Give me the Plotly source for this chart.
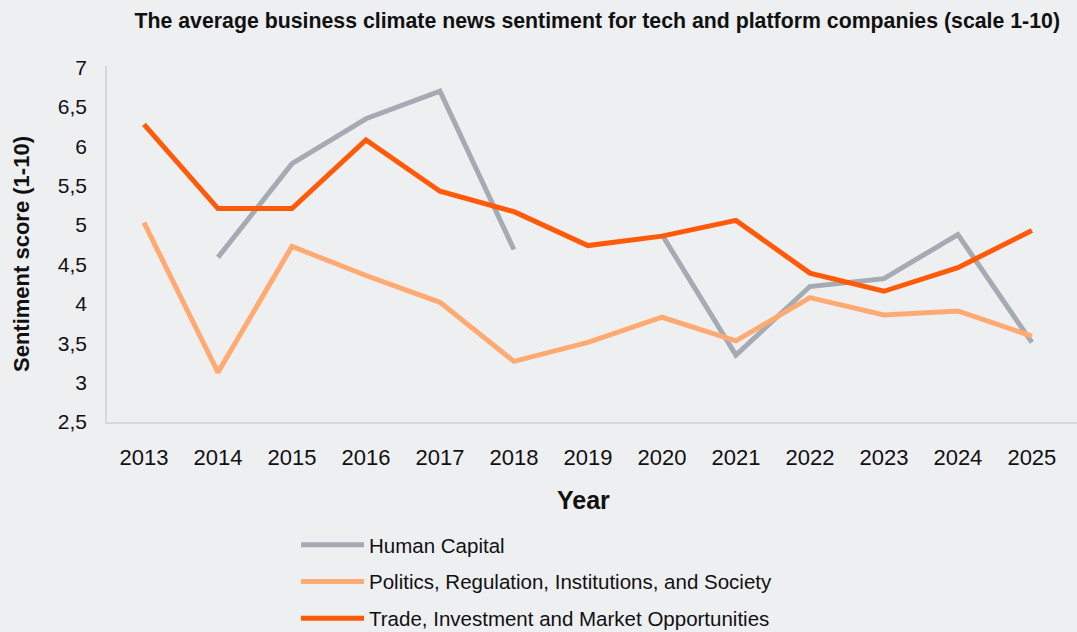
import plotly.graph_objects as go

# Sentiment scores per year (scale 1-10); None marks a year without data
years = [2013, 2014, 2015, 2016, 2017, 2018, 2019, 2020, 2021, 2022, 2023, 2024, 2025]
human_capital = [None, 4.59, 5.78, 6.35, 6.70, 4.69, None, 4.88, 3.35, 4.22, 4.32, 4.88, 3.51]
politics = [5.03, 3.13, 4.73, 4.36, 4.02, 3.27, 3.51, 3.83, 3.53, 4.08, 3.86, 3.91, 3.59]
trade = [6.28, 5.21, 5.21, 6.08, 5.43, 5.17, 4.74, 4.86, 5.06, 4.39, 4.16, 4.46, 4.93]

y_ticks = [2.5, 3, 3.5, 4, 4.5, 5, 5.5, 6, 6.5, 7]
y_tick_labels = ["2,5", "3", "3,5", "4", "4,5", "5", "5,5", "6", "6,5", "7"]

series = [
    ("Human Capital", human_capital, "#A6AAB3"),
    ("Politics, Regulation, Institutions, and Society", politics, "#FFAA73"),
    ("Trade, Investment and Market Opportunities", trade, "#FF5A0A"),
]

BG = "#EEEFF1"
FONT = "Liberation Sans, Arial, sans-serif"

fig = go.Figure()
for name, values, color in series:
    fig.add_trace(go.Scatter(
        x=years, y=values, name=name, mode="lines",
        line=dict(color=color, width=5),
        connectgaps=False,
        legendgroup=name,
    ))

fig.update_layout(
    width=1077, height=632,
    paper_bgcolor=BG, plot_bgcolor=BG,
    margin=dict(l=107, r=0, t=66, b=210, autoexpand=False),
    font=dict(family=FONT, color="#111111"),
    title=dict(
        text="<b>The average business climate news sentiment for tech and platform companies (scale 1-10)</b>",
        font=dict(family=FONT, size=21.3, color="#111111"),
        x=1060 / 1077, xanchor="right", xref="container",
        y=1 - 21 / 632, yanchor="middle", yref="container",
    ),
    showlegend=True,
    legend=dict(
        orientation="v",
        traceorder="grouped",
        xref="container", yref="container",
        x=296 / 1077, xanchor="left",
        y=(632 - 525) / 632, yanchor="top",
        font=dict(size=20.5, color="#111111"),
        bgcolor="rgba(0,0,0,0)",
        itemwidth=63,
        tracegroupgap=7,
    ),
    annotations=[
        dict(
            text="<b>Year</b>", xref="paper", yref="paper",
            x=(583 - 107) / 970, y=-(500 - 422) / 356,
            xanchor="center", yanchor="middle", showarrow=False,
            font=dict(size=25, color="#111111"),
        ),
        dict(
            text="<b>Sentiment score (1-10)</b>", xref="paper", yref="paper",
            x=(22 - 107) / 970, y=(422 - 254) / 356, textangle=-90,
            xanchor="center", yanchor="middle", showarrow=False,
            font=dict(size=22, color="#111111"),
        ),
    ],
)

fig.update_xaxes(
    range=[2012.5, 2025.61],
    tickvals=years, ticktext=[str(y) for y in years],
    tickfont=dict(size=22, color="#111111"),
    showgrid=False, zeroline=False,
    showline=True, linecolor="#D6D7DA", linewidth=1.5,
    ticks="", ticklabelstandoff=15, automargin=False,
)
fig.update_yaxes(
    range=[2.5, 7.02],
    tickvals=y_ticks, ticktext=y_tick_labels,
    tickfont=dict(size=21, color="#111111"),
    showgrid=False, zeroline=False,
    showline=True, linecolor="#D6D7DA", linewidth=1.5,
    ticks="", ticklabelstandoff=14, automargin=False,
)

fig.write_html("out.html")
